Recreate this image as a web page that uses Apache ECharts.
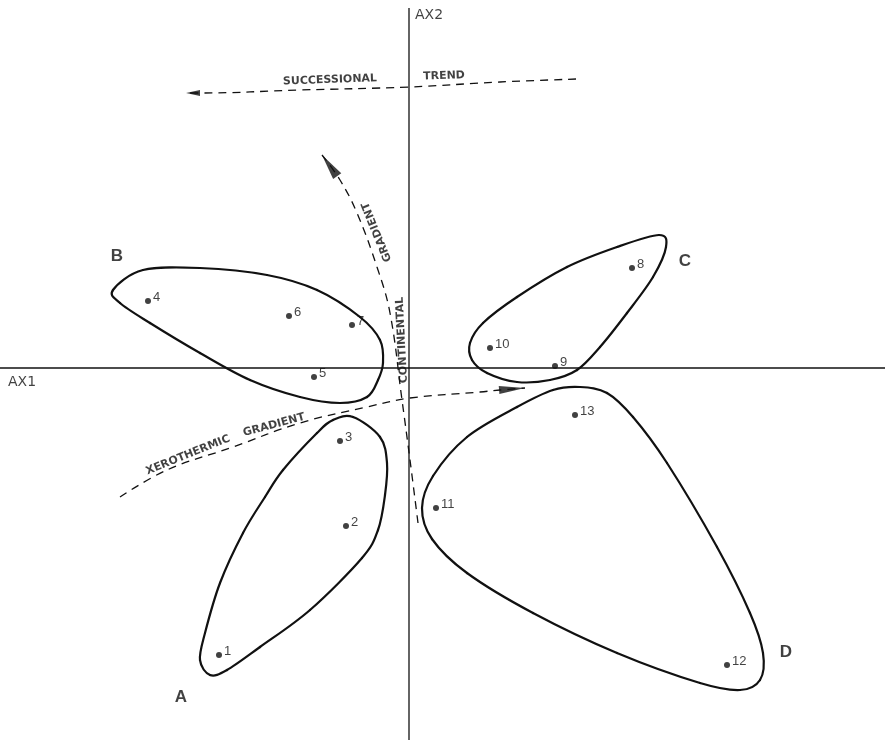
<!DOCTYPE html>
<html>
<head>
<meta charset="utf-8">
<title>Ordination</title>
<script src="https://cdn.jsdelivr.net/npm/echarts@6/dist/echarts.min.js"></script>
</head>
<body style="margin:0;background:#fff">
<div id="chart" style="width:885px;height:740px"></div>
<script type="text/javascript">
// ordination scores (one unit = one pixel of the original plate, origin at axis crossing)
var standNames = ['1', '2', '3', '4', '5', '6', '7', '8', '9', '10', '11', '12', '13'];
var standX = [-190, -63, -69, -261, -95, -120, -57, 223, 146, 81, 27, 318, 166];
var standY = [-287, -158, -73, 67, -9, 52, 43, 100, 2, 20, -140, -297, -47];

// cluster outlines
var groupNames = ['A', 'B', 'C', 'D'];
var groupLabelPos = [[-228, -329], [-292, 112], [276, 107], [377, -284]];
var outlineA = [[-56, -49], [-29, -69], [-22, -95], [-24, -127], [-31, -162], [-47, -190], [-99, -242],
    [-149, -279], [-182, -302], [-199, -307], [-209, -292], [-204, -265], [-189, -215], [-166, -165],
    [-144, -129], [-126, -102], [-92, -65], [-76, -52]];
var outlineB = [[-296, 78], [-266, 98], [-209, 100], [-142, 93], [-92, 78], [-49, 51], [-29, 28], [-26, 5],
    [-31, -12], [-42, -29], [-69, -35], [-109, -29], [-159, -12], [-209, 15], [-259, 45], [-289, 65]];
var outlineC = [[250, 133], [208, 121], [158, 101], [108, 71], [74, 45], [61, 25], [63, 8], [78, -5],
    [108, -14], [141, -12], [168, -2], [191, 21], [218, 55], [244, 91], [257, 121]];
var outlineD = [[171, -19], [198, -25], [224, -49], [258, -95], [308, -179], [341, -245], [354, -285],
    [351, -312], [331, -322], [291, -315], [208, -285], [124, -245], [58, -205], [23, -171], [13, -140],
    [24, -108], [58, -69], [108, -39], [144, -22]];
var outlines = [outlineA, outlineB, outlineC, outlineD];

// trend arrows (last point is the arrow tip)
var successionalTrend = [[167, 289], [91, 286], [0, 281], [-109, 278], [-209, 275], [-223, 275]];
var xerothermicGradient = [[-289, -129], [-242, -102], [-176, -79], [-109, -55], [-42, -39], [1, -30],
    [71, -24], [91, -22], [116, -20]];
var continentalGradient = [[9, -155], [1, -92], [-7, -32], [-19, 55], [-32, 101], [-52, 155], [-69, 188], [-87, 213]];

// text along the arrows: [x, y, text, angle]
var annotations = [
    [-79, 288, 'SUCCESSIONAL', 2],
    [35, 292, 'TREND', 2],
    [-221, -87, 'XEROTHERMIC', 22],
    [-135, -57, 'GRADIENT', 15],
    [-7, 28, 'CONTINENTAL', 93],
    [-32, 136, 'GRADIENT', 112]
];

var ax1 = [[-409, 0], [476, 0]];
var ax2 = [[0, 360], [0, -372]];

var ink = '#111';
var font = 'Liberation Sans, Arial, sans-serif';

var myChart = echarts.init(document.getElementById('chart'));

function arrowHead(pts, len, wid) {
    var a = pts[pts.length - 2], b = pts[pts.length - 1];
    var dx = b[0] - a[0], dy = b[1] - a[1];
    var d = Math.sqrt(dx * dx + dy * dy);
    var ang = Math.atan2(dy, dx) * 180 / Math.PI;
    return {
        value: [b[0] - dx / d * len / 2, b[1] - dy / d * len / 2],
        symbolRotate: ang - 90,
        symbolSize: [wid, len]
    };
}

function dashed(pts) {
    return {
        type: 'line', data: pts, smooth: 0.4, symbol: 'none', silent: true,
        lineStyle: { color: ink, width: 1.3, type: [8, 6] }, z: 3
    };
}

// closed catmull-rom loop as bezier pieces
function loopCurves(pts) {
    var n = pts.length, out = [];
    for (var i = 0; i < n; i++) {
        var p0 = pts[(i - 1 + n) % n], p1 = pts[i], p2 = pts[(i + 1) % n], p3 = pts[(i + 2) % n];
        out.push({
            type: 'bezierCurve',
            shape: {
                x1: p1[0], y1: p1[1], x2: p2[0], y2: p2[1],
                cpx1: p1[0] + (p2[0] - p0[0]) / 6, cpy1: p1[1] + (p2[1] - p0[1]) / 6,
                cpx2: p2[0] - (p3[0] - p1[0]) / 6, cpy2: p2[1] - (p3[1] - p1[1]) / 6
            },
            style: { fill: null, stroke: ink, lineWidth: 2.2, lineCap: 'round' }
        });
    }
    return out;
}

var option = {
    backgroundColor: '#fff',
    animation: false,
    grid: { left: 0, right: 0, top: 0, bottom: 0 },
    xAxis: { type: 'value', min: -409, max: 476, show: false },
    yAxis: { type: 'value', min: -372, max: 368, show: false },
    series: [
        { type: 'line', data: ax1, symbol: 'none', silent: true, lineStyle: { color: ink, width: 1.3 }, z: 2 },
        { type: 'line', data: ax2, symbol: 'none', silent: true, lineStyle: { color: ink, width: 1.3 }, z: 2 },
        {
            type: 'custom',
            data: outlines.map(function (o) { return [o[0][0], o[0][1]]; }),
            clip: false,
            silent: true,
            renderItem: function (params, api) {
                var pts = outlines[params.dataIndex].map(function (p) { return api.coord(p); });
                return { type: 'group', children: loopCurves(pts) };
            },
            z: 4
        },
        dashed(successionalTrend),
        dashed(xerothermicGradient),
        dashed(continentalGradient),
        {
            type: 'scatter', symbol: 'triangle', silent: true,
            itemStyle: { color: ink },
            data: [arrowHead(successionalTrend, 14, 6), arrowHead(xerothermicGradient, 26, 8),
                arrowHead(continentalGradient, 26, 10)],
            z: 5
        },
        {
            type: 'scatter', symbol: 'circle', symbolSize: 6,
            itemStyle: { color: ink },
            data: standNames.map(function (n, i) { return { name: n, value: [standX[i], standY[i]] }; }),
            label: {
                show: true, position: 'right', distance: 2, offset: [0, -4],
                formatter: '{b}', color: ink, fontSize: 13, fontFamily: font, textBorderWidth: 0
            },
            z: 6
        },
        {
            type: 'scatter', symbolSize: 0,
            data: groupNames.map(function (n, i) { return { name: n, value: groupLabelPos[i] }; }),
            label: {
                show: true, position: 'inside', formatter: '{b}', textBorderWidth: 0,
                color: ink, fontSize: 17, fontWeight: 'bold', fontFamily: font
            },
            z: 6
        },
        {
            type: 'scatter', symbolSize: 0,
            data: annotations.map(function (a) {
                return { name: a[2], value: [a[0], a[1]], label: { rotate: a[3] } };
            }),
            label: {
                show: true, position: 'inside', formatter: '{b}', textBorderWidth: 0,
                color: ink, fontSize: 11, fontWeight: 'bold', fontFamily: 'DejaVu Sans, sans-serif'
            },
            z: 6
        },
        {
            type: 'scatter', symbolSize: 0,
            data: [{ name: 'AX2', value: [6, 353] }, { name: 'AX1', value: [-401, -14] }],
            label: {
                show: true, position: 'right', distance: 0, formatter: '{b}', textBorderWidth: 0,
                color: ink, fontSize: 14, fontFamily: 'DejaVu Sans, sans-serif'
            },
            z: 6
        }
    ]
};

myChart.setOption(option);
</script>
</body>
</html>
